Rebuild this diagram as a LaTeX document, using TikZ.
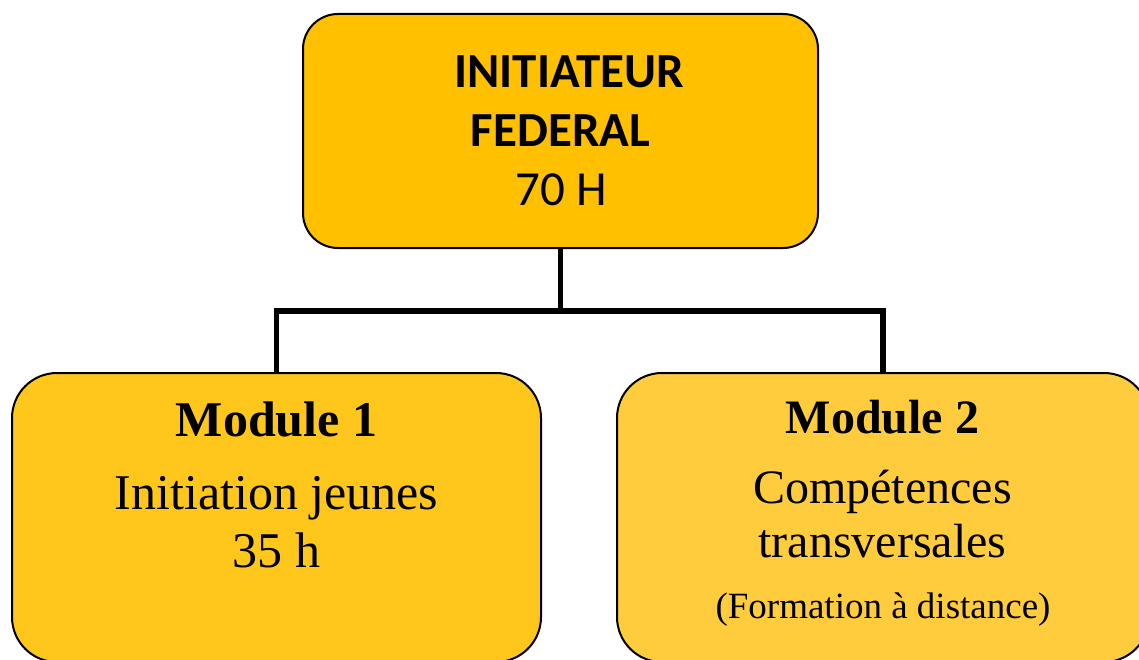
\documentclass[tikz,border=0pt]{standalone}
\usepackage{fontspec}
\newfontfamily\calib{Carlito}
\newfontfamily\tnr{Liberation Serif}
\definecolor{topc}{RGB}{255,192,0}
\definecolor{leftc}{RGB}{255,198,27}
\definecolor{rightc}{RGB}{255,204,62}
\begin{document}
\begin{tikzpicture}[x=1pt,y=-1pt,
  boxstyle/.style={draw=black, line width=2pt, inner sep=0pt, rectangle},
  conn/.style={draw=black, line width=5.5pt},
  toptxt/.style={anchor=base, inner sep=0pt, font=\calib\fontsize{49}{49}\selectfont},
  lefttxt/.style={anchor=base, inner sep=0pt, font=\tnr\fontsize{50}{50}\selectfont},
  righttxt/.style={anchor=base, inner sep=0pt, font=\tnr\fontsize{48}{48}\selectfont}]
\useasboundingbox (0,0) rectangle (1139,660);
\node[boxstyle, fill=topc, rounded corners=35pt, minimum width=515pt, minimum height=234pt] (top) at (560.5,131) {};
\node[boxstyle, fill=leftc, rounded corners=45pt, minimum width=529pt, minimum height=289pt] (m1) at (276.5,517.5) {};
\node[boxstyle, fill=rightc, rounded corners=45pt, minimum width=532pt, minimum height=289pt] (m2) at (883,517.5) {};
\coordinate (j) at (560.5,311);
\draw[conn] (top.south) -- (j);
\draw[conn] (j) -| (m1.north);
\draw[conn] (j) -| (m2.north);
\node[toptxt, font=\calib\bfseries\fontsize{49}{49}\selectfont] (t1) at (569,88) {INITIATEUR};
\node[toptxt, font=\calib\bfseries\fontsize{49}{49}\selectfont] (t2) at (560.5,147) {FEDERAL};
\node[toptxt] (t3) at (561,206) {70 H};
\node[lefttxt, font=\tnr\bfseries\fontsize{50}{50}\selectfont] (l1) at (276.5,436) {Module 1};
\node[lefttxt] (l2) at (276.5,509) {Initiation jeunes};
\node[lefttxt] (l3) at (276.5,567) {35 h};
\node[righttxt, font=\tnr\bfseries\fontsize{48}{48}\selectfont] (r1) at (882.5,433) {Module 2};
\node[righttxt] (r2) at (882.5,503) {Compétences};
\node[righttxt] (r3) at (882.5,557) {transversales};
\node[righttxt, font=\tnr\fontsize{37}{37}\selectfont] (r4) at (883,618) {(Formation à distance)};
\end{tikzpicture}
\end{document}
